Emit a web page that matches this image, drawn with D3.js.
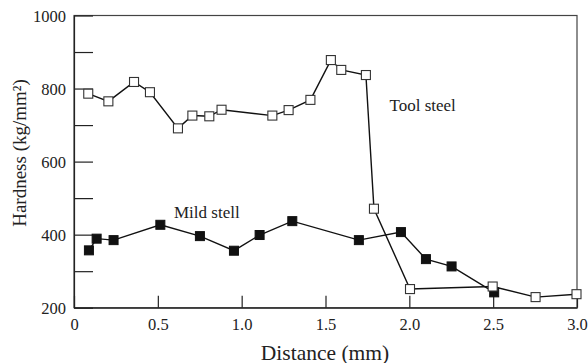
<!DOCTYPE html>
<html>
<head>
<meta charset="utf-8">
<script src="https://cdn.jsdelivr.net/npm/d3@7"></script>
<style>
  html, body { margin: 0; padding: 0; background: #fff; }
  svg { display: block; }
  text { font-family: "Liberation Serif", "DejaVu Serif", serif; fill: #222; }
</style>
</head>
<body>
<svg id="chart" width="588" height="363"></svg>
<script>
// Data
const toolDistance = [0.085, 0.205, 0.358, 0.453, 0.62, 0.706, 0.807, 0.88, 1.183, 1.28, 1.41, 1.532, 1.594, 1.741, 1.789, 2.004, 2.497, 2.753, 2.997];
const toolHardness = [786, 765, 818, 790, 691, 726, 724, 742, 726, 741, 769, 878, 851, 837, 471, 251, 258, 229, 237];
const mildDistance = [0.089, 0.135, 0.236, 0.515, 0.751, 0.954, 1.107, 1.302, 1.699, 1.95, 2.099, 2.252, 2.506];
const mildHardness = [357, 389, 385, 427, 396, 356, 399, 437, 385, 407, 333, 313, 242];
const xTicks = [0, 0.5, 1.0, 1.5, 2.0, 2.5, 3.0];
const yTicks = [200, 300, 400, 500, 600, 700, 800, 900, 1000];
const xTitle = "Distance (mm)";
const yTitle = "Hardness (kg/mm\u00B2)";
const toolLabel = "Tool steel";
const mildLabel = "Mild stell";

const svg = d3.select("#chart");
const mLeft = 74, mRight = 577, mTop = 15.5, mBottom = 307.7;
const x = d3.scaleLinear().domain([0, 3]).range([mLeft, mRight]);
const y = d3.scaleLinear().domain([200, 1000]).range([mBottom, mTop]);
const ink = "#222";
const serif = '"Liberation Serif", "DejaVu Serif", serif';

// frame
svg.append("rect")
  .attr("x", mLeft).attr("y", mTop)
  .attr("width", mRight - mLeft).attr("height", mBottom - mTop)
  .attr("fill", "none").attr("stroke", "#444").attr("stroke-width", 1.2);

// y axis
const yAxis = svg.append("g").attr("transform", `translate(${mLeft},0)`)
  .call(d3.axisLeft(y).tickValues(yTicks).tickSizeInner(-19).tickSizeOuter(0).tickPadding(8)
    .tickFormat(d => d % 200 === 0 ? String(d) : ""));
yAxis.attr("font-family", serif);
yAxis.selectAll("path, line").attr("stroke", ink).attr("stroke-width", 1.2);
yAxis.selectAll("text").style("font-size", "16.5px").attr("fill", ink)
  .style("font-family", serif).attr("dy", "0.38em");

// x axis
const xAxis = svg.append("g").attr("transform", `translate(0,${mBottom})`)
  .call(d3.axisBottom(x).tickValues(xTicks).tickSizeInner(-12).tickSizeOuter(0).tickPadding(10.5)
    .tickFormat(d => d === 0 ? "0" : d3.format(".1f")(d)));
xAxis.attr("font-family", serif);
xAxis.selectAll("path, line").attr("stroke", ink).attr("stroke-width", 1.2);
xAxis.selectAll("text").style("font-size", "16.5px").attr("fill", ink)
  .style("font-family", serif);

// axis titles
svg.append("text").attr("x", 325).attr("y", 359.5)
  .attr("text-anchor", "middle").style("font-size", "21.5px").text(xTitle);
svg.append("text")
  .attr("transform", `translate(19,153) rotate(-90)`)
  .attr("text-anchor", "middle").attr("dominant-baseline", "central")
  .style("font-size", "19px").text(yTitle);

const line = d3.line().x(d => x(d[0])).y(d => y(d[1]));
const tool = toolDistance.map((d, i) => [d, toolHardness[i]]);
const mild = mildDistance.map((d, i) => [d, mildHardness[i]]);

svg.append("path").datum(tool).attr("d", line)
  .attr("fill", "none").attr("stroke", "#111").attr("stroke-width", 1.4);
svg.append("path").datum(mild).attr("d", line)
  .attr("fill", "none").attr("stroke", "#111").attr("stroke-width", 1.4);

const s = 9;
svg.append("g").selectAll("rect").data(mild).join("rect")
  .attr("x", d => x(d[0]) - s / 2).attr("y", d => y(d[1]) - s / 2)
  .attr("width", s).attr("height", s)
  .attr("fill", "#111").attr("stroke", "#111").attr("stroke-width", 1);
svg.append("g").selectAll("rect").data(tool).join("rect")
  .attr("x", d => x(d[0]) - s / 2).attr("y", d => y(d[1]) - s / 2)
  .attr("width", s).attr("height", s)
  .attr("fill", "#fff").attr("stroke", "#333").attr("stroke-width", 1.1);

// series labels
svg.append("text").attr("x", 389.5).attr("y", 110.7).style("font-size", "17px").text(toolLabel);
svg.append("text").attr("x", 174).attr("y", 217.5).style("font-size", "17px").text(mildLabel);
</script>
</body>
</html>
